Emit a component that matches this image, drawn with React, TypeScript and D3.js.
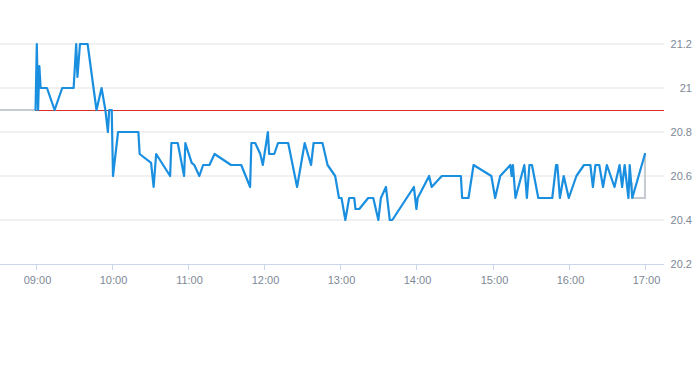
import React, { useEffect } from 'react';
import * as d3 from 'd3';

// intraday price, blue series
const times = [
  '09:00', '09:01', '09:02', '09:03', '09:04', '09:09', '09:15', '09:21', '09:30', '09:32',
  '09:33', '09:35', '09:41', '09:48', '09:52', '09:55', '09:57', '09:58', '10:00', '10:01',
  '10:05', '10:21', '10:22', '10:31', '10:33', '10:35', '10:46', '10:47', '10:52', '10:57',
  '10:58', '11:03', '11:05', '11:09', '11:12', '11:17', '11:21', '11:34', '11:42', '11:49',
  '11:50', '11:53', '11:57', '11:59', '12:03', '12:04', '12:08', '12:11', '12:19', '12:26',
  '12:32', '12:37', '12:39', '12:46', '12:50', '12:56', '12:59', '13:01', '13:04', '13:07',
  '13:11', '13:12', '13:15', '13:22', '13:26', '13:30', '13:32', '13:36', '13:39', '13:41',
  '13:58', '14:00', '14:01', '14:10', '14:12', '14:20', '14:35', '14:36', '14:41', '14:45',
  '14:59', '15:02', '15:06', '15:14', '15:15', '15:16', '15:18', '15:25', '15:27', '15:29',
  '15:31', '15:36', '15:47', '15:50', '15:51', '15:53', '15:56', '16:00', '16:06', '16:12',
  '16:17', '16:19', '16:21', '16:24', '16:27', '16:30', '16:36', '16:40', '16:42', '16:44',
  '16:47', '16:48', '16:50', '17:00',
];
const prices = [
  20.9, 21.2, 20.9, 21.1, 21.0, 21.0, 20.9, 21.0, 21.0, 21.2,
  21.05, 21.2, 21.2, 20.9, 21.0, 20.9, 20.8, 20.9, 20.9, 20.6,
  20.8, 20.8, 20.7, 20.66, 20.55, 20.7, 20.6, 20.75, 20.75, 20.6,
  20.75, 20.66, 20.65, 20.6, 20.65, 20.65, 20.7, 20.65, 20.65, 20.55,
  20.75, 20.75, 20.7, 20.65, 20.8, 20.7, 20.7, 20.75, 20.75, 20.55,
  20.75, 20.65, 20.75, 20.75, 20.65, 20.6, 20.5, 20.5, 20.4, 20.5,
  20.5, 20.45, 20.45, 20.5, 20.5, 20.4, 20.5, 20.55, 20.4, 20.4,
  20.55, 20.45, 20.5, 20.6, 20.55, 20.6, 20.6, 20.5, 20.5, 20.65,
  20.6, 20.5, 20.6, 20.65, 20.6, 20.65, 20.5, 20.65, 20.5, 20.65,
  20.65, 20.5, 20.5, 20.65, 20.65, 20.5, 20.6, 20.5, 20.6, 20.65,
  20.65, 20.55, 20.65, 20.65, 20.55, 20.65, 20.55, 20.65, 20.55, 20.65,
  20.5, 20.65, 20.5, 20.7,
];

// grey series: previous close before the open, and the closing auction
const preTimes = ['08:32', '09:00'];
const preValues = [20.9, 20.9];
const closeTimes = ['16:50', '16:50', '17:00', '17:00'];
const closeValues = [20.57, 20.5, 20.5, 20.7];

const refValue = 20.9;
const yTicks = [20.2, 20.4, 20.6, 20.8, 21, 21.2];
const xTicks = ['09:00', '10:00', '11:00', '12:00', '13:00', '14:00', '15:00', '16:00', '17:00'];

const parse = (s: string) => {
  const [h, m] = s.split(':').map(Number);
  return new Date(2020, 0, 6, h, m);
};

const W = 693, H = 365;
const margin = { top: 44, right: 29, bottom: 101, left: 0 };

export default function App() {
  useEffect(() => {
    document.body.style.margin = '0';
  }, []);

  const x = d3
    .scaleTime()
    .domain([parse('08:32'), parse('17:15')])
    .range([margin.left, W - margin.right]);
  const y = d3
    .scaleLinear()
    .domain([20.2, 21.2])
    .range([H - margin.bottom, margin.top]);

  const line = d3
    .line<[string, number]>()
    .x((d) => x(parse(d[0])))
    .y((d) => y(d[1]));

  const main = times.map((t, i) => [t, prices[i]] as [string, number]);
  const pre = preTimes.map((t, i) => [t, preValues[i]] as [string, number]);
  const close = closeTimes.map((t, i) => [t, closeValues[i]] as [string, number]);

  const fmt = d3.timeFormat('%H:%M');
  const labelStyle = {
    fontFamily: 'Liberation Sans, Arial, sans-serif',
    fontSize: 11,
    fill: '#7d8896',
  };

  return (
    <svg width={W} height={H} style={{ display: 'block' }}>
      {/* grid */}
      {yTicks.map((v) => (
        <g key={v}>
          {v !== 20.2 && (
            <line x1={margin.left} x2={W - margin.right} y1={y(v)} y2={y(v)} stroke="#e3e3e3" />
          )}
          <text x={W - 1} y={y(v)} dy="0.35em" textAnchor="end" style={labelStyle}>
            {d3.format('')(v)}
          </text>
        </g>
      ))}

      {/* x axis */}
      <line
        x1={margin.left}
        x2={W - margin.right}
        y1={y(20.2) + 0.5}
        y2={y(20.2) + 0.5}
        stroke="#ccd6eb"
      />
      {xTicks.map((t) => {
        const px = Math.round(x(parse(t))) + 0.5;
        return (
          <g key={t}>
            <line x1={px} x2={px} y1={y(20.2)} y2={y(20.2) + 6} stroke="#ccd6eb" />
            <text x={px + 1} y={y(20.2) + 20} textAnchor="middle" style={labelStyle}>
              {fmt(parse(t))}
            </text>
          </g>
        );
      })}

      {/* reference line */}
      <line
        x1={x(parse('09:00'))}
        x2={W - margin.right}
        y1={Math.round(y(refValue)) + 0.5}
        y2={Math.round(y(refValue)) + 0.5}
        stroke="#d9302c"
        strokeWidth={1}
      />

      <path d={line(pre) || ''} fill="none" stroke="#c5cbd1" strokeWidth={2} />
      <path d={line(close) || ''} fill="none" stroke="#c5cbd1" strokeWidth={2} />
      <path
        d={line(main) || ''}
        fill="none"
        stroke="#1a8fe0"
        strokeWidth={2.2}
        strokeLinejoin="round"
        strokeLinecap="round"
      />
    </svg>
  );
}
